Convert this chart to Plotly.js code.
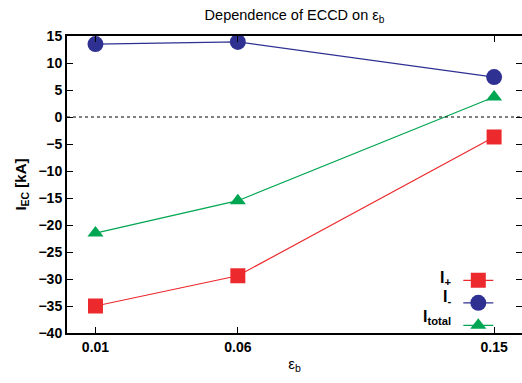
<!DOCTYPE html>
<html>
<head>
<meta charset="utf-8">
<script src="https://cdn.plot.ly/plotly-3.0.1.min.js"></script>
<style>html,body{margin:0;padding:0;background:#fff;}#chart{width:522px;height:383px;}</style>
</head>
<body>
<div id="chart"></div>
<script>
const epsB = [0.01, 0.06, 0.15];
const iPlus = [-35.0, -29.4, -3.7];
const iMinus = [13.5, 13.9, 7.4];
const iTotal = [-21.5, -15.5, 3.7];
const xTicks = [0.01, 0.06, 0.15];
const xTickLabels = ['0.01', '0.06', '0.15'];
const yTicks = [15, 10, 5, 0, -5, -10, -15, -20, -25, -30, -35, -40];
const seriesLabels = ['I<sub>+</sub>', 'I<sub>-</sub>', 'I<sub>total</sub>'];

const red = '#ec2a2e', blue = '#2e3192', green = '#00a651';
const font = 'Liberation Sans, Arial, sans-serif';

const traces = [
  {x: epsB, y: iPlus, mode: 'lines+markers', name: ' ', line: {color: red, width: 1.2},
   marker: {symbol: 'square', size: 15, color: red}},
  {x: epsB, y: iMinus, mode: 'lines+markers', name: ' ', line: {color: blue, width: 1.2},
   marker: {symbol: 'circle', size: 16, color: blue}},
  {x: epsB, y: iTotal, mode: 'lines+markers', name: ' ', line: {color: green, width: 1.2},
   marker: {symbol: 'triangle-up', size: 14, color: green}}
];

const rowY = [0.185, 0.118, 0.052];
const annotations = seriesLabels.map((t, i) => ({
  text: '<b>' + t + '</b>', xref: 'paper', yref: 'paper', x: 0.848, y: rowY[i],
  xanchor: 'right', yanchor: 'middle', showarrow: false,
  font: {family: font, size: 16, color: '#000'}
}));

const layout = {
  width: 522, height: 383,
  margin: {l: 67, r: 0, t: 36, b: 50, autoexpand: false},
  paper_bgcolor: '#fff', plot_bgcolor: '#fff',
  title: {text: 'Dependence of ECCD on ε<sub>b</sub>', font: {family: font, size: 14.5, color: '#000', weight: 500},
          x: 0.5, xref: 'paper', y: 0.962, yanchor: 'middle'},
  xaxis: {range: [0, 0.1598], tickvals: xTicks, ticktext: xTickLabels,
          showline: true, linecolor: '#000', linewidth: 2, mirror: 'ticks',
          ticks: 'inside', ticklen: 6, tickcolor: '#000', tickwidth: 1,
          showgrid: false, zeroline: false, automargin: false,
          tickfont: {family: font, size: 14, color: '#000', weight: 'bold'},
          title: {text: 'ε<sub>b</sub>', font: {family: font, size: 15, color: '#000'}, standoff: 5}},
  yaxis: {range: [-40, 15], tickvals: yTicks,
          showline: true, linecolor: '#000', linewidth: 2, mirror: 'ticks',
          ticks: 'inside', ticklen: 6, tickcolor: '#000', tickwidth: 1,
          showgrid: false, zeroline: false, automargin: false,
          tickfont: {family: font, size: 14, color: '#000', weight: 'bold'},
          title: {text: '<b>I<sub>EC</sub> [kA]</b>', font: {family: font, size: 15, color: '#000'}, standoff: 8}},
  shapes: [{type: 'line', xref: 'paper', x0: 0, x1: 1, yref: 'y', y0: 0, y1: 0,
            line: {color: '#000', width: 1, dash: 'dot'}}],
  showlegend: true,
  legend: {x: 0.86, y: 0.232, xanchor: 'left', yanchor: 'top', bgcolor: 'rgba(0,0,0,0)',
           font: {family: font, size: 15}, itemwidth: 30, tracegroupgap: 0},
  annotations: annotations
};

Plotly.newPlot('chart', traces, layout, {staticPlot: true, displayModeBar: false});
</script>
</body>
</html>
